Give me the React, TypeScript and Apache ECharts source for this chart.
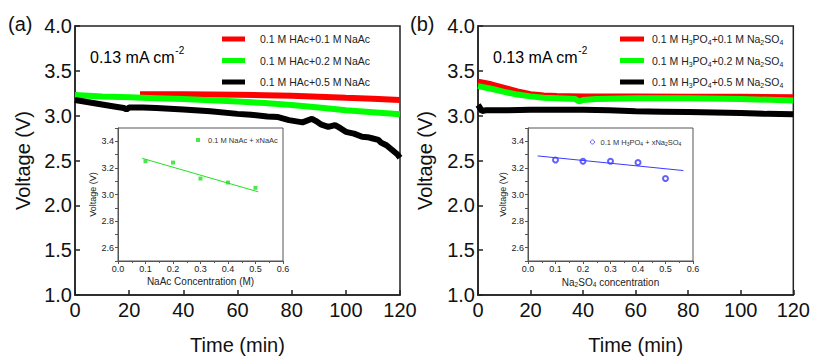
import React, { useEffect, useRef } from "react";
import * as echarts from "echarts";

// ---- Panel (a): HAc + NaAc ----
const redA_t = [24, 30, 40, 50, 60, 70, 80, 90, 100, 110, 120];
const redA_v = [3.238, 3.24, 3.24, 3.236, 3.232, 3.228, 3.222, 3.212, 3.2, 3.19, 3.175];
const greenA_t = [0, 10, 20, 30, 40, 50, 60, 70, 80, 90, 100, 110, 120];
const greenA_v = [3.23, 3.215, 3.205, 3.195, 3.185, 3.172, 3.158, 3.14, 3.12, 3.09, 3.06, 3.038, 3.015];
const blackA_t = [0, 5, 10, 15, 18, 19, 20, 25, 30, 40, 50, 60, 65, 71, 75, 79, 84, 87.5, 89, 91, 93.5, 96, 98, 100, 103, 106, 108, 110, 112, 113, 115, 117, 119, 120];
const blackA_v = [3.175, 3.15, 3.125, 3.1, 3.085, 3.07, 3.09, 3.09, 3.085, 3.07, 3.05, 3.02, 3.01, 2.99, 2.985, 2.95, 2.925, 2.965, 2.94, 2.9, 2.875, 2.895, 2.86, 2.82, 2.8, 2.765, 2.76, 2.745, 2.73, 2.7, 2.67, 2.62, 2.57, 2.53];

// ---- Panel (b): H3PO4 + Na2SO4 ----
const redB_t = [0, 5, 10, 15, 20, 25, 30, 40, 60, 80, 100, 120];
const redB_v = [3.38, 3.35, 3.31, 3.27, 3.24, 3.225, 3.22, 3.215, 3.215, 3.212, 3.21, 3.205];
const greenB_t = [0, 5, 10, 15, 20, 25, 30, 35, 37, 38.5, 40, 45, 50, 60, 80, 100, 120];
const greenB_v = [3.33, 3.3, 3.265, 3.235, 3.215, 3.2, 3.195, 3.19, 3.185, 3.16, 3.175, 3.185, 3.19, 3.195, 3.195, 3.185, 3.17];
const blackB_t = [0, 0.5, 1.5, 3, 10, 20, 30, 40, 50, 60, 70, 80, 90, 100, 110, 120];
const blackB_v = [3.12, 3.1, 3.05, 3.06, 3.06, 3.065, 3.065, 3.065, 3.06, 3.05, 3.045, 3.04, 3.035, 3.03, 3.02, 3.015];

// ---- Insets ----
const naacConc = [0.1, 0.2, 0.3, 0.4, 0.5];
const naacVolt = [3.25, 3.24, 3.12, 3.09, 3.05];
const naacFitX = [0.088, 0.51];
const naacFitV = [3.272, 3.02];
const na2so4Conc = [0.1, 0.2, 0.3, 0.4, 0.5];
const na2so4Volt = [3.26, 3.25, 3.25, 3.24, 3.12];
const na2so4FitX = [0.035, 0.565];
const na2so4FitV = [3.29, 3.18];

// ---- Tick settings ----
const timeTicks = { min: 0, max: 120, interval: 20 };
const voltTicks = { min: 1, max: 4, interval: 0.5 };
const concTicks = { min: 0, max: 0.6, interval: 0.1 };
const insetVoltTicks = { min: 2.5, max: 3.5, interval: 0.1 };

const zip = (a: number[], b: number[]) => a.map((x, i) => [x, b[i]]);

const FONT = "Liberation Sans, Arial, sans-serif";
const RED = "#ff0000";
const GREEN = "#00ff00";
const BLACK = "#000000";
const IGREEN = "#22e022";
const IBLUE = "#3a3aff";

const legendA = ["0.1 M HAc+0.1 M NaAc", "0.1 M HAc+0.2 M NaAc", "0.1 M HAc+0.5 M NaAc"];
const legendB = ["0.1 M H3PO4+0.1 M Na2SO4", "0.1 M H3PO4+0.2 M Na2SO4", "0.1 M H3PO4+0.5 M Na2SO4"];
const insetNameA = "0.1 M NaAc + xNaAc";
const insetNameB = "0.1 M H3PO4 + xNa2SO4";

const subRich = (fs: number, lh: number) => ({
  s: { fontSize: fs * 0.66, fontFamily: FONT, color: "#222", verticalAlign: "bottom", lineHeight: lh },
});

function subify(name: string) {
  return name
    .replace(/H3PO4/g, "H{s|3}PO{s|4}")
    .replace(/Na2SO4/g, "Na{s|2}SO{s|4}");
}

function mainX(idx: number) {
  return {
    type: "value",
    gridIndex: idx,
    ...timeTicks,
    name: "Time (min)",
    nameLocation: "middle",
    nameGap: 40,
    nameTextStyle: { fontSize: 20, fontFamily: FONT, color: "#111" },
    axisLine: { show: true, lineStyle: { color: "#222", width: 1.5 } },
    axisTick: { show: true, inside: true, length: 5, lineStyle: { color: "#222", width: 1.5 } },
    axisLabel: { fontSize: 20, fontFamily: FONT, color: "#111", margin: 5 },
    splitLine: { show: false },
  };
}

function mainY(idx: number, gap: number) {
  return {
    type: "value",
    gridIndex: idx,
    ...voltTicks,
    name: "Voltage (V)",
    nameLocation: "middle",
    nameGap: gap,
    nameTextStyle: { fontSize: 20, fontFamily: FONT, color: "#111" },
    axisLine: { show: true, lineStyle: { color: "#222", width: 1.5 } },
    axisTick: { show: true, inside: true, length: 5, lineStyle: { color: "#222", width: 1.5 } },
    axisLabel: { fontSize: 20, fontFamily: FONT, color: "#111", margin: 3, formatter: (v: number) => v.toFixed(1) },
    splitLine: { show: false },
  };
}

function insetX(idx: number, name: string, rich?: any) {
  return {
    type: "value",
    gridIndex: idx,
    ...concTicks,
    name,
    nameLocation: "middle",
    nameGap: 15,
    nameTextStyle: { fontSize: 10, fontFamily: FONT, color: "#222", rich },
    axisLine: { show: true, lineStyle: { color: "#555", width: 1 } },
    axisTick: { show: true, inside: false, length: 3, lineStyle: { color: "#555" } },
    minorTick: { show: true, splitNumber: 2, length: 2, lineStyle: { color: "#555" } },
    axisLabel: { fontSize: 9, fontFamily: FONT, color: "#222", margin: 3, formatter: (v: number) => v.toFixed(1) },
    splitLine: { show: false },
  };
}

function insetY(idx: number) {
  return {
    type: "value",
    gridIndex: idx,
    ...insetVoltTicks,
    name: "Voltage (V)",
    nameLocation: "middle",
    nameGap: 21,
    nameTextStyle: { fontSize: 9, fontFamily: FONT, color: "#222" },
    axisLine: { show: true, lineStyle: { color: "#555", width: 1 } },
    axisTick: { show: true, inside: false, length: 3, lineStyle: { color: "#555" } },
    axisLabel: {
      fontSize: 9,
      fontFamily: FONT,
      color: "#222",
      margin: 4,
      formatter: (v: number) => (Math.round(v * 10) % 2 === 0 ? v.toFixed(1) : ""),
    },
    splitLine: { show: false },
  };
}

function mainLine(name: string, color: string, t: number[], v: number[], ax: number) {
  return {
    name,
    type: "line",
    xAxisIndex: ax,
    yAxisIndex: ax,
    data: zip(t, v),
    symbol: "none",
    smooth: false,
    lineStyle: { color, width: 6 },
    itemStyle: { color },
  };
}

const concText = (left: number) => ({
  type: "text",
  left,
  top: 45,
  style: {
    text: "{b|0.13 mA cm}{p|-2}",
    rich: {
      b: { fontSize: 16, fontFamily: FONT, color: "#111", lineHeight: 20, verticalAlign: "bottom" },
      p: { fontSize: 10, fontFamily: FONT, color: "#111", lineHeight: 20, verticalAlign: "top" },
    },
  },
});

export default function App() {
  const ref = useRef<HTMLDivElement>(null);
  useEffect(() => {
    if (!ref.current) return;
    const chart = echarts.init(ref.current, null, { renderer: "svg" });
    const option: any = {
      animation: false,
      backgroundColor: "#ffffff",
      grid: [
        { left: 75, top: 26, width: 325, height: 269, show: true, borderColor: "#222", borderWidth: 1.5, backgroundColor: "transparent" },
        { left: 478, top: 26, width: 318, height: 271, show: true, borderColor: "#222", borderWidth: 1.5, backgroundColor: "transparent" },
        { left: 118, top: 128, width: 165, height: 133, show: true, borderColor: "#555", borderWidth: 1, backgroundColor: "#fff" },
        { left: 528, top: 128, width: 165, height: 133, show: true, borderColor: "#555", borderWidth: 1, backgroundColor: "#fff" },
      ],
      xAxis: [
        mainX(0),
        mainX(1),
        insetX(2, "NaAc Concentration (M)"),
        insetX(3, "Na{s|2}SO{s|4} concentration", subRich(10, 12)),
      ],
      yAxis: [mainY(0, 42), mainY(1, 43), insetY(2), insetY(3)],
      legend: [
        {
          data: legendA,
          orient: "vertical",
          left: 222,
          top: 32,
          padding: 0,
          icon: "rect",
          itemWidth: 23,
          itemHeight: 5,
          itemGap: 7.5,
          selectedMode: false,
          textStyle: { fontSize: 10.5, fontFamily: FONT, color: "#222", padding: [0, 0, 0, 10], lineHeight: 14 },
        },
        {
          data: legendB,
          orient: "vertical",
          left: 620,
          top: 32,
          padding: 0,
          icon: "rect",
          itemWidth: 24,
          itemHeight: 5,
          itemGap: 7.5,
          selectedMode: false,
          formatter: (n: string) => subify(n),
          textStyle: { fontSize: 10.5, fontFamily: FONT, color: "#222", padding: [0, 0, 0, 3], lineHeight: 14, rich: subRich(10.5, 14) },
        },
        {
          data: [{ name: insetNameA, icon: "rect", itemStyle: { color: IGREEN, borderWidth: 0 } }],
          orient: "vertical",
          left: 196,
          top: 135,
          padding: 0,
          itemWidth: 4,
          itemHeight: 4,
          selectedMode: false,
          textStyle: { fontSize: 7.5, fontFamily: FONT, color: "#333", padding: [0, 0, 0, 3], lineHeight: 10 },
        },
        {
          data: [{ name: insetNameB, icon: "circle", itemStyle: { color: "#fff", borderColor: IBLUE, borderWidth: 1 } }],
          orient: "vertical",
          left: 590,
          top: 137,
          padding: 0,
          itemWidth: 4,
          itemHeight: 4,
          selectedMode: false,
          formatter: (n: string) => subify(n),
          textStyle: { fontSize: 7.5, fontFamily: FONT, color: "#333", padding: [0, 0, 0, 1], lineHeight: 10, rich: subRich(7.5, 10) },
        },
      ],
      graphic: [
        { type: "text", left: 8, top: 14, style: { text: "(a)", fontSize: 20, fontFamily: FONT, fill: "#111" } },
        { type: "text", left: 410, top: 14, style: { text: "(b)", fontSize: 20, fontFamily: FONT, fill: "#111" } },
        concText(90),
        concText(493),
      ],
      series: [
        mainLine(legendA[0], RED, redA_t, redA_v, 0),
        mainLine(legendA[1], GREEN, greenA_t, greenA_v, 0),
        mainLine(legendA[2], BLACK, blackA_t, blackA_v, 0),
        mainLine(legendB[0], RED, redB_t, redB_v, 1),
        mainLine(legendB[1], GREEN, greenB_t, greenB_v, 1),
        mainLine(legendB[2], BLACK, blackB_t, blackB_v, 1),
        {
          name: insetNameA,
          type: "scatter",
          xAxisIndex: 2,
          yAxisIndex: 2,
          data: zip(naacConc, naacVolt),
          symbol: "rect",
          symbolSize: 4,
          itemStyle: { color: IGREEN },
        },
        {
          name: "fitA",
          type: "line",
          xAxisIndex: 2,
          yAxisIndex: 2,
          data: zip(naacFitX, naacFitV),
          symbol: "none",
          lineStyle: { color: IGREEN, width: 1 },
        },
        {
          name: insetNameB,
          type: "scatter",
          xAxisIndex: 3,
          yAxisIndex: 3,
          data: zip(na2so4Conc, na2so4Volt),
          symbol: "emptyCircle",
          symbolSize: 5,
          itemStyle: { color: IBLUE, borderColor: IBLUE, borderWidth: 1 },
        },
        {
          name: "fitB",
          type: "line",
          xAxisIndex: 3,
          yAxisIndex: 3,
          data: zip(na2so4FitX, na2so4FitV),
          symbol: "none",
          lineStyle: { color: IBLUE, width: 1 },
        },
      ],
    };
    chart.setOption(option);
    return () => chart.dispose();
  }, []);
  return (
    <div
      ref={ref}
      style={{ position: "fixed", left: 0, top: 0, width: 813, height: 360, background: "#fff" }}
    />
  );
}
